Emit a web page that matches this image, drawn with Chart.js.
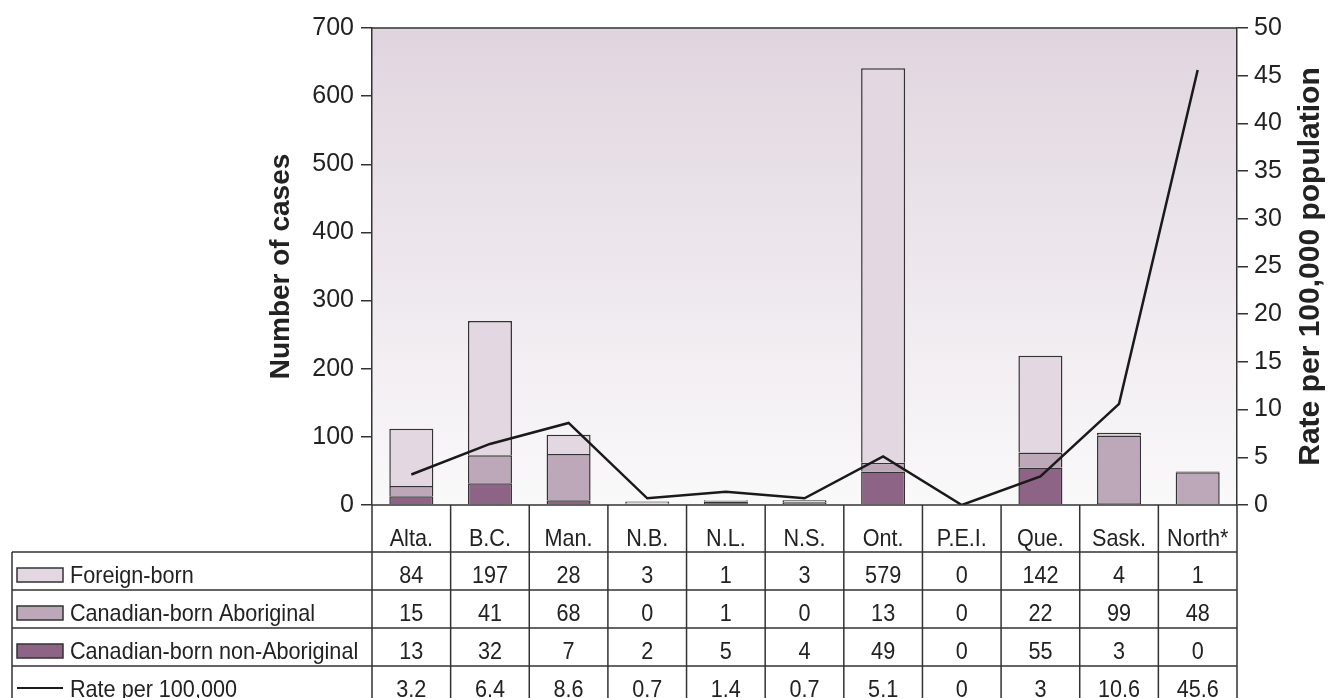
<!DOCTYPE html>
<html>
<head>
<meta charset="utf-8">
<script src="https://cdn.jsdelivr.net/npm/chart.js@4"></script>
<style>
  body { margin: 0; background: #fff; }
</style>
</head>
<body>
<canvas id="chart" width="1329" height="698"></canvas>
<script>
let provinces = ['Alta.','B.C.','Man.','N.B.','N.L.','N.S.','Ont.','P.E.I.','Que.','Sask.','North*'];
let foreignBorn = [84,197,28,3,1,3,579,0,142,4,1];
let aboriginal = [15,41,68,0,1,0,13,0,22,99,48];
let nonAboriginal = [13,32,7,2,5,4,49,0,55,3,0];
let rate = [3.2,6.4,8.6,0.7,1.4,0.7,5.1,0,3,10.6,45.6];
let casesTicks = [0,100,200,300,400,500,600,700];
let rateTicks = [0,5,10,15,20,25,30,35,40,45,50];

const FONT = '"Liberation Sans", Arial, Helvetica, sans-serif';
const INK = '#222';
const EDGE = '#333';
Chart.defaults.font.family = FONT;
Chart.defaults.color = INK;

// plot background, light mauve fading to white
const bgPlugin = {
  id: 'bg',
  beforeDraw(chart) {
    const {ctx, chartArea: a} = chart;
    let g = ctx.createLinearGradient(0, a.top, 0, a.bottom);
    g.addColorStop(0, '#e0d5df');
    g.addColorStop(1, '#faf9fa');
    ctx.save();
    ctx.fillStyle = g;
    ctx.fillRect(a.left, a.top, a.right - a.left, a.bottom - a.top);
    ctx.restore();
  }
};

function narrow(ctx, s, x, y, align) {
  ctx.save();
  ctx.translate(x, y);
  ctx.scale(0.9, 1);
  ctx.textAlign = align;
  ctx.fillText(s, 0, 0);
  ctx.restore();
}

// data table under the plot + frame + right title
const tablePlugin = {
  id: 'table',
  afterDraw(chart) {
    const {ctx, chartArea: a} = chart;
    const n = provinces.length;
    const colW = (a.right - a.left) / n;
    const headBottom = 552, rowH = 38, tableLeft = 12;
    const rows = [
      {label: 'Foreign-born', vals: foreignBorn, ds: 2},
      {label: 'Canadian-born Aboriginal', vals: aboriginal, ds: 1},
      {label: 'Canadian-born non-Aboriginal', vals: nonAboriginal, ds: 0},
      {label: 'Rate per 100,000', vals: rate, ds: 3}
    ];
    ctx.save();
    ctx.strokeStyle = EDGE;
    ctx.lineWidth = 1.5;

    // frame top and bottom of plot
    ctx.beginPath();
    ctx.moveTo(a.left, a.top); ctx.lineTo(a.right, a.top);
    ctx.moveTo(a.left, a.bottom); ctx.lineTo(a.right, a.bottom);
    ctx.stroke();

    // header column lines
    ctx.beginPath();
    for (let i = 0; i <= n; i++) {
      let x = a.left + i * colW;
      ctx.moveTo(x, a.bottom); ctx.lineTo(x, chart.height);
    }
    ctx.moveTo(tableLeft, headBottom); ctx.lineTo(tableLeft, chart.height);
    for (let r = 0; r <= rows.length; r++) {
      let y = headBottom + r * rowH;
      ctx.moveTo(tableLeft, y); ctx.lineTo(a.right, y);
    }
    ctx.stroke();

    ctx.fillStyle = INK;
    ctx.font = '24px ' + FONT;
    ctx.textBaseline = 'alphabetic';
    provinces.forEach((p, i) => {
      narrow(ctx, p, a.left + (i + 0.5) * colW, a.bottom + 41, 'center');
    });

    rows.forEach((row, r) => {
      let top = headBottom + r * rowH;
      let ds = chart.data.datasets[row.ds];
      if (ds.type === 'line') {
        ctx.beginPath();
        ctx.strokeStyle = ds.borderColor;
        ctx.lineWidth = 2;
        ctx.moveTo(17, top + 22); ctx.lineTo(63, top + 22);
        ctx.stroke();
      } else {
        ctx.fillStyle = ds.backgroundColor;
        ctx.fillRect(17, top + 16, 46, 14);
        ctx.strokeStyle = EDGE;
        ctx.lineWidth = 1.5;
        ctx.strokeRect(17, top + 16, 46, 14);
      }
      ctx.fillStyle = INK;
      narrow(ctx, row.label, 70, top + 31, 'left');
      row.vals.forEach((v, i) => {
        narrow(ctx, String(v), a.left + (i + 0.5) * colW, top + 31, 'center');
      });
    });

    // right axis title, reads bottom to top
    ctx.translate(1311, (a.top + a.bottom) / 2);
    ctx.rotate(-Math.PI / 2);
    ctx.font = 'bold 30px ' + FONT;
    ctx.textAlign = 'center';
    ctx.textBaseline = 'middle';
    ctx.fillText('Rate per 100,000 population', 0, 0);
    ctx.restore();
  }
};

const barStyle = {borderColor: EDGE, borderWidth: 1.5, barPercentage: 0.56, categoryPercentage: 1, yAxisID: 'y', order: 1};

let chart = new Chart(document.getElementById('chart').getContext('2d'), {
  type: 'bar',
  data: {
    labels: provinces,
    datasets: [
      {label: 'Canadian-born non-Aboriginal', data: nonAboriginal, backgroundColor: '#8d6486', ...barStyle},
      {label: 'Canadian-born Aboriginal', data: aboriginal, backgroundColor: '#bda8b9', ...barStyle},
      {label: 'Foreign-born', data: foreignBorn, backgroundColor: '#e3d8e1', ...barStyle},
      {
        type: 'line',
        label: 'Rate per 100,000',
        data: rate,
        yAxisID: 'y2',
        borderColor: '#1a1a1a',
        borderWidth: 2.5,
        pointRadius: 0,
        tension: 0,
        order: 0
      }
    ]
  },
  options: {
    responsive: false,
    animation: false,
    layout: {padding: {left: 260, right: 0, top: 28, bottom: 193}},
    plugins: {
      legend: {display: false},
      tooltip: {enabled: false}
    },
    scales: {
      x: {
        stacked: true,
        display: false
      },
      y: {
        stacked: true,
        position: 'left',
        min: 0,
        max: 700,
        afterBuildTicks: (s) => { s.ticks = casesTicks.map(v => ({value: v})); },
        afterFit: (s) => { s.width = 112; },
        border: {display: true, color: EDGE, width: 1.5},
        grid: {drawOnChartArea: false, drawTicks: true, tickLength: 11, color: EDGE, lineWidth: 1.5},
        ticks: {color: INK, padding: 7, font: {size: 25}},
        title: {display: true, text: 'Number of cases', color: INK, padding: {top: 4, bottom: 0}, font: {size: 28, weight: 'bold'}}
      },
      y2: {
        position: 'right',
        min: 0,
        max: 50,
        afterBuildTicks: (s) => { s.ticks = rateTicks.map(v => ({value: v})); },
        afterFit: (s) => { s.width = 92; },
        border: {display: true, color: EDGE, width: 1.5},
        grid: {drawOnChartArea: false, drawTicks: true, tickLength: 11, color: EDGE, lineWidth: 1.5},
        ticks: {color: INK, padding: 6, font: {size: 25}}
      }
    }
  },
  plugins: [bgPlugin, tablePlugin]
});
</script>
</body>
</html>
